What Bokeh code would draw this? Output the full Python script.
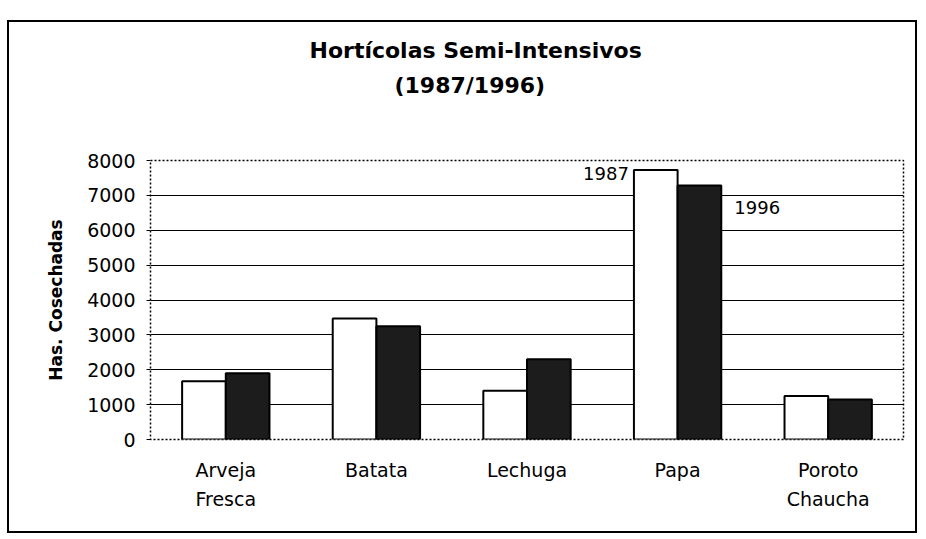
from bokeh.plotting import figure
from bokeh.models import FactorRange, Range1d, FixedTicker, Title, ColumnDataSource
from bokeh.transform import dodge
from bokeh.core.properties import value
from bokeh.embed import file_html
from bokeh.resources import INLINE

# ---- data ----
categories = ["Arveja\nFresca", "Batata", "Lechuga", "Papa", "Poroto\nChaucha"]
ha_1987 = [1670, 3470, 1400, 7730, 1250]
ha_1996 = [1900, 3250, 2300, 7280, 1150]
series_names = ["1987", "1996"]
y_ticks = [0, 1000, 2000, 3000, 4000, 5000, 6000, 7000, 8000]
grid_ticks = [1000, 2000, 3000, 4000, 5000, 6000, 7000]
title_lines = ["Hortícolas Semi-Intensivos", "(1987/1996)"]
y_label = "Has. Cosechadas"
annotated_category = "Papa"

src = ColumnDataSource(dict(cat=categories, v87=ha_1987, v96=ha_1996))
ia = categories.index(annotated_category)
src_lab = ColumnDataSource(dict(cat=[categories[ia]], v87=[ha_1987[ia]], v96=[ha_1996[ia]]))

FONT = "DejaVu Sans"

p = figure(
    width=910, height=513,
    x_range=FactorRange(*categories, range_padding=0),
    y_range=Range1d(0, 8000),
    output_backend="svg", toolbar_location=None,
    min_border_left=141, min_border_right=16,
    min_border_top=138, min_border_bottom=96,
)
p.styles = {"border": "2px solid #000", "margin-top": "20px", "margin-left": "7px"}
p.title.visible = False

bw = 0.29
p.vbar(x=dodge("cat", -bw / 2, range=p.x_range), top="v87", width=bw, source=src,
       fill_color="white", line_color="black", line_width=2)
p.vbar(x=dodge("cat", bw / 2, range=p.x_range), top="v96", width=bw, source=src,
       fill_color="#1c1c1c", line_color="black", line_width=2)

# series labels next to the Papa bars
p.text(x=dodge("cat", -bw, range=p.x_range), y="v87", text=value(series_names[0]), source=src_lab,
       text_font=value(FONT), text_font_size="18px", text_align="right", text_baseline="top",
       x_offset=-5, y_offset=-3, text_color="black")
p.text(x=dodge("cat", bw, range=p.x_range), y="v96", text=value(series_names[1]), source=src_lab,
       text_font=value(FONT), text_font_size="18px", text_align="left", text_baseline="top",
       x_offset=13, y_offset=15, text_color="black")

# frame / grid
p.outline_line_color = "black"
p.outline_line_dash = "2 2"
p.outline_line_width = 1.5
p.xgrid.grid_line_color = None
p.ygrid.ticker = FixedTicker(ticks=grid_ticks)
p.ygrid.grid_line_color = "black"
p.ygrid.grid_line_width = 1.2
p.background_fill_color = "white"
p.border_fill_color = "white"

# y axis
p.yaxis.ticker = FixedTicker(ticks=y_ticks)
p.yaxis.minor_tick_line_color = None
p.yaxis.axis_line_color = None
p.yaxis.major_tick_line_color = "black"
p.yaxis.major_tick_out = 4
p.yaxis.major_tick_in = 0
p.yaxis.major_label_standoff = 11
p.yaxis.major_label_text_font = FONT
p.yaxis.major_label_text_font_size = "19px"
p.yaxis.major_label_text_color = "black"
p.yaxis.axis_label = y_label
p.yaxis.axis_label_text_font = FONT
p.yaxis.axis_label_text_font_size = "17px"
p.yaxis.axis_label_text_font_style = "bold"
p.yaxis.axis_label_text_color = "black"
p.yaxis.axis_label_standoff = 18

# x axis
p.xaxis.axis_line_color = None
p.xaxis.major_tick_line_color = None
p.xaxis.minor_tick_line_color = None
p.xaxis.major_tick_out = 0
p.xaxis.major_label_standoff = 19
p.xaxis.major_label_text_font = FONT
p.xaxis.major_label_text_font_size = "19px"
p.xaxis.major_label_text_color = "black"
p.xaxis.major_label_text_line_height = 1.35

# two-line title (spacer keeps the block at the top of the chart box)
spacer = Title(text=" ", text_font_size="2px", standoff=59)
t2 = Title(text=title_lines[1], align="left", offset=244, standoff=0,
           text_font=FONT, text_font_size="22px", text_font_style="bold", text_color="black")
t1 = Title(text=title_lines[0], align="left", offset=159, standoff=15,
           text_font=FONT, text_font_size="22px", text_font_style="bold", text_color="black")
p.add_layout(spacer, "above")
p.add_layout(t2, "above")
p.add_layout(t1, "above")

open("out.html", "w").write(file_html(p, INLINE))
